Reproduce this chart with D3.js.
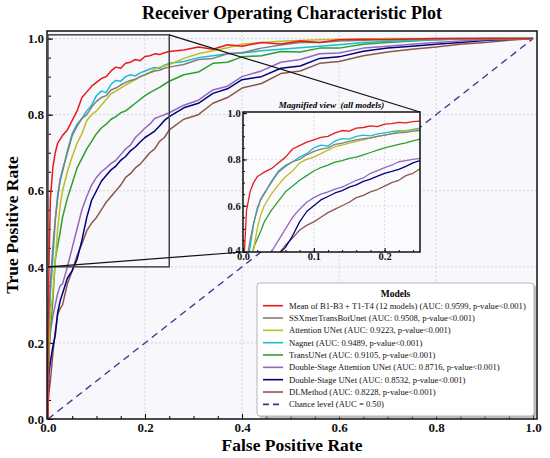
<!DOCTYPE html>
<html>
<head>
<meta charset="utf-8">
<script src="https://cdn.jsdelivr.net/npm/d3@7"></script>
<style>
  body { margin: 0; background: #fff; }
  svg { font-family: "Liberation Serif", "DejaVu Serif", serif; }
  .tick text { font-weight: bold; fill: #111; }
</style>
</head>
<body>
<svg width="550" height="458"></svg>
<script>
// shared false positive rate grid
const fprGrid = [0, 0.002, 0.005, 0.01, 0.015, 0.02, 0.025, 0.03,
  0.04, 0.05, 0.06, 0.07, 0.08, 0.09, 0.1, 0.11, 0.12, 0.13, 0.14, 0.15, 0.16, 0.17, 0.18, 0.19, 0.2, 0.21, 0.22, 0.23, 0.24, 0.25,
  0.28, 0.31, 0.34, 0.37, 0.4,
  0.44, 0.48, 0.52, 0.56, 0.6,
  0.65, 0.7, 0.75, 0.8, 0.85, 0.9, 0.95, 1.0];

// true positive rates per model
const tprMean = [0.22, 0.40, 0.58, 0.66, 0.70, 0.725, 0.735, 0.745,
  0.76, 0.785, 0.81, 0.845, 0.86, 0.875, 0.885, 0.895, 0.90, 0.915, 0.925, 0.922, 0.935, 0.938, 0.945, 0.942, 0.953, 0.955, 0.96, 0.958, 0.963, 0.966,
  0.97, 0.978, 0.972, 0.984, 0.98,
  0.99, 0.986, 0.994, 0.99, 0.997,
  0.998, 0.997, 0.999, 1, 1, 1, 1, 1];
const tprSSX = [0.18, 0.26, 0.36, 0.45, 0.525, 0.58, 0.63, 0.655,
  0.70, 0.745, 0.77, 0.79, 0.80, 0.82, 0.835, 0.845, 0.85, 0.865, 0.87, 0.878, 0.885, 0.89, 0.893, 0.90, 0.905, 0.91, 0.915, 0.917, 0.922, 0.925,
  0.932, 0.945, 0.948, 0.96, 0.963,
  0.975, 0.983, 0.99, 0.99, 0.994,
  0.996, 0.998, 0.998, 0.999, 1, 1, 1, 1];
const tprAttUNet = [0.12, 0.20, 0.27, 0.33, 0.41, 0.50, 0.56, 0.60,
  0.65, 0.69, 0.725, 0.75, 0.785, 0.80, 0.81, 0.825, 0.84, 0.855, 0.862, 0.87, 0.878, 0.885, 0.892, 0.90, 0.905, 0.912, 0.92, 0.925, 0.928, 0.932,
  0.948, 0.96, 0.968, 0.976, 0.985,
  0.99, 0.993, 0.995, 0.997, 0.998,
  0.999, 1, 1, 1, 1, 1, 1, 1];
const tprNagnet = [0.15, 0.25, 0.33, 0.42, 0.52, 0.59, 0.625, 0.65,
  0.705, 0.75, 0.775, 0.79, 0.81, 0.825, 0.85, 0.862, 0.858, 0.88, 0.89, 0.888, 0.90, 0.905, 0.902, 0.91, 0.915, 0.92, 0.924, 0.922, 0.93, 0.935,
  0.94, 0.95, 0.955, 0.96, 0.962,
  0.968, 0.972, 0.976, 0.98, 0.984,
  0.99, 0.993, 0.995, 0.997, 0.999, 1, 1, 1];
const tprTransUNet = [0.10, 0.17, 0.24, 0.31, 0.42, 0.455, 0.49, 0.53,
  0.58, 0.62, 0.66, 0.685, 0.71, 0.73, 0.75, 0.765, 0.775, 0.788, 0.795, 0.805, 0.81, 0.82, 0.83, 0.84, 0.85, 0.858, 0.865, 0.872, 0.88, 0.888,
  0.905, 0.912, 0.935, 0.938, 0.952,
  0.955, 0.966, 0.965, 0.975, 0.975,
  0.985, 0.99, 0.994, 0.997, 0.999, 1, 1, 1];
const tprDSAttUNet = [0.05, 0.18, 0.23, 0.27, 0.30, 0.33, 0.35, 0.355,
  0.40, 0.45, 0.50, 0.55, 0.585, 0.615, 0.635, 0.65, 0.66, 0.672, 0.68, 0.695, 0.71, 0.72, 0.74, 0.752, 0.765, 0.775, 0.79, 0.795, 0.80, 0.805,
  0.825, 0.838, 0.865, 0.875, 0.90,
  0.915, 0.938, 0.945, 0.96, 0.962,
  0.975, 0.98, 0.985, 0.99, 0.994, 0.997, 0.999, 1];
const tprDSUNet = [0.04, 0.12, 0.15, 0.19, 0.22, 0.28, 0.31, 0.33,
  0.37, 0.39, 0.42, 0.47, 0.53, 0.575, 0.60, 0.625, 0.64, 0.655, 0.665, 0.68, 0.69, 0.705, 0.715, 0.728, 0.74, 0.748, 0.757, 0.77, 0.785, 0.795,
  0.818, 0.83, 0.856, 0.868, 0.892,
  0.90, 0.922, 0.928, 0.948, 0.952,
  0.967, 0.975, 0.98, 0.985, 0.99, 0.995, 0.998, 1];
const tprDLMethod = [0.03, 0.07, 0.10, 0.17, 0.23, 0.275, 0.29, 0.30,
  0.355, 0.39, 0.43, 0.46, 0.495, 0.515, 0.53, 0.55, 0.57, 0.585, 0.60, 0.615, 0.635, 0.645, 0.66, 0.67, 0.685, 0.70, 0.71, 0.73, 0.74, 0.76,
  0.788, 0.80, 0.83, 0.845, 0.87,
  0.882, 0.908, 0.915, 0.935, 0.94,
  0.955, 0.965, 0.972, 0.978, 0.985, 0.99, 0.996, 1];

const modelNames = ["Mean of B1-B3 + T1-T4 (12 models)", "SSXmerTransBotUnet", "Attention UNet", "Nagnet",
  "TransUNet", "Double-Stage Attention UNet", "Double-Stage UNet", "DLMethod"];
const aucValues = [0.9599, 0.9508, 0.9223, 0.9489, 0.9105, 0.8716, 0.8532, 0.8228];
const tprSeries = [tprMean, tprSSX, tprAttUNet, tprNagnet, tprTransUNet, tprDSAttUNet, tprDSUNet, tprDLMethod];
const chanceLabel = "Chance level (AUC = 0.50)";

const xTicks = [0, 0.2, 0.4, 0.6, 0.8, 1.0];
const yTicks = [0, 0.2, 0.4, 0.6, 0.8, 1.0];
const insetXTicks = [0, 0.1, 0.2];
const insetYTicks = [0.4, 0.6, 0.8, 1.0];

// styles
const colors = ["#e8191c", "#7f7f7f", "#bcbd22", "#17becf", "#2ca02c", "#9467bd", "#00007f", "#8c564b"];
const chanceColor = "#35358a";

const svg = d3.select("svg");
const width = +svg.attr("width");
const height = +svg.attr("height");

// 主圖框
const frame = { left: 47, right: 537, top: 31, bottom: 419 };
const x = d3.scaleLinear().domain([-0.002, 1.008]).range([frame.left, frame.right]);
const y = d3.scaleLinear().domain([0, 1.02]).range([frame.bottom, frame.top]);

const series = tprSeries.map((tpr, i) => ({
  name: modelNames[i],
  auc: aucValues[i],
  color: colors[i],
  points: [[0, 0]].concat(fprGrid.map((f, j) => [f, tpr[j]]))
}));

const defs = svg.append("defs");
defs.append("clipPath").attr("id", "mainClip")
  .append("rect")
  .attr("x", frame.left).attr("y", frame.top)
  .attr("width", frame.right - frame.left).attr("height", frame.bottom - frame.top);

// background
svg.append("rect")
  .attr("x", frame.left).attr("y", frame.top)
  .attr("width", frame.right - frame.left).attr("height", frame.bottom - frame.top)
  .attr("fill", "#f7f7fc");

// grid
const grid = svg.append("g").attr("stroke", "#c9c9cf").attr("stroke-width", 0.8).attr("stroke-dasharray", "2,2");
grid.selectAll(".gx").data(xTicks.slice(1, -1)).enter().append("line")
  .attr("x1", d => x(d)).attr("x2", d => x(d)).attr("y1", frame.top).attr("y2", frame.bottom);
grid.selectAll(".gy").data(yTicks.slice(1)).enter().append("line")
  .attr("y1", d => y(d)).attr("y2", d => y(d)).attr("x1", frame.left).attr("x2", frame.right);

// axes
const minor = d3.range(0, 1.0001, 0.05);
const xAxisG = svg.append("g").attr("transform", `translate(0,${frame.bottom})`)
  .call(d3.axisBottom(x).tickValues(xTicks).tickFormat(d3.format(".1f")).tickSize(-5).tickPadding(3.5));
xAxisG.append("g").call(d3.axisBottom(x).tickValues(minor).tickFormat("").tickSize(-3));
xAxisG.selectAll(".domain").remove();
xAxisG.selectAll("text").attr("font-size", 13).attr("font-family", "Liberation Serif");

const yAxisG = svg.append("g").attr("transform", `translate(${frame.left + 1},0)`)
  .call(d3.axisLeft(y).tickValues(yTicks).tickFormat(d3.format(".1f")).tickSize(-5).tickPadding(4));
yAxisG.append("g").call(d3.axisLeft(y).tickValues(minor).tickFormat("").tickSize(-3));
yAxisG.selectAll(".domain").remove();
yAxisG.selectAll("text").attr("font-size", 13).attr("font-family", "Liberation Serif");

// curves
const line = d3.line().x(d => x(d[0])).y(d => y(d[1]));
const curves = svg.append("g").attr("clip-path", "url(#mainClip)");
curves.append("line")
  .attr("x1", x(0)).attr("y1", y(0)).attr("x2", x(1)).attr("y2", y(1))
  .attr("stroke", chanceColor).attr("stroke-width", 1.3).attr("stroke-dasharray", "7,5");
curves.selectAll("path.roc").data(series.slice().reverse()).enter().append("path")
  .attr("class", "roc")
  .attr("d", d => line(d.points))
  .attr("fill", "none")
  .attr("stroke", d => d.color)
  .attr("stroke-width", 1.5)
  .attr("stroke-linejoin", "round");

// frame
svg.append("rect")
  .attr("x", frame.left).attr("y", frame.top)
  .attr("width", frame.right - frame.left).attr("height", frame.bottom - frame.top)
  .attr("fill", "none").attr("stroke", "#111").attr("stroke-width", 1.5);

// zoom region
const zoomBox = { x0: 0, x1: 0.25, y0: 0.4, y1: 1.01 };
svg.append("rect")
  .attr("x", x(zoomBox.x0)).attr("y", y(zoomBox.y1))
  .attr("width", x(zoomBox.x1) - x(zoomBox.x0)).attr("height", y(zoomBox.y0) - y(zoomBox.y1))
  .attr("fill", "none").attr("stroke", "#444").attr("stroke-width", 1.5);

// inset
const inset = { left: 243, right: 420, top: 112, bottom: 252 };
const ix = d3.scaleLinear().domain([0, 0.25]).range([inset.left, inset.right]);
const iy = d3.scaleLinear().domain([0.4, 1.005]).range([inset.bottom, inset.top]);

// connector lines
svg.append("line")
  .attr("x1", x(zoomBox.x1)).attr("y1", y(zoomBox.y1)).attr("x2", inset.right).attr("y2", inset.top)
  .attr("stroke", "#111").attr("stroke-width", 1.2);
svg.append("line")
  .attr("x1", x(zoomBox.x0)).attr("y1", y(zoomBox.y0)).attr("x2", inset.left).attr("y2", inset.bottom)
  .attr("stroke", "#111").attr("stroke-width", 1.2);

defs.append("clipPath").attr("id", "insetClip")
  .append("rect")
  .attr("x", inset.left).attr("y", inset.top)
  .attr("width", inset.right - inset.left).attr("height", inset.bottom - inset.top);

svg.append("rect")
  .attr("x", inset.left).attr("y", inset.top)
  .attr("width", inset.right - inset.left).attr("height", inset.bottom - inset.top)
  .attr("fill", "#fbfbfe");

const igrid = svg.append("g").attr("stroke", "#d0d0d6").attr("stroke-width", 0.7).attr("stroke-dasharray", "2,2");
igrid.selectAll("line.gx").data(insetXTicks.slice(1)).enter().append("line")
  .attr("x1", d => ix(d)).attr("x2", d => ix(d)).attr("y1", inset.top).attr("y2", inset.bottom);
igrid.selectAll("line.gy").data(insetYTicks.slice(1, -1)).enter().append("line")
  .attr("y1", d => iy(d)).attr("y2", d => iy(d)).attr("x1", inset.left).attr("x2", inset.right);

const ixAxisG = svg.append("g").attr("transform", `translate(0,${inset.bottom})`)
  .call(d3.axisBottom(ix).tickValues(insetXTicks).tickFormat(d3.format(".1f")).tickSize(-4).tickPadding(1));
ixAxisG.append("g").call(d3.axisBottom(ix).tickValues(d3.range(0, 0.2501, 0.02)).tickFormat("").tickSize(-2));
ixAxisG.selectAll(".domain").remove();
ixAxisG.selectAll("text").attr("font-size", 10.5).attr("font-family", "Liberation Serif");

const iyAxisG = svg.append("g").attr("transform", `translate(${inset.left},0)`)
  .call(d3.axisLeft(iy).tickValues(insetYTicks).tickFormat(d3.format(".1f")).tickSize(-4).tickPadding(2.3));
iyAxisG.append("g").call(d3.axisLeft(iy).tickValues(d3.range(0.4, 1.0001, 0.05)).tickFormat("").tickSize(-2));
iyAxisG.selectAll(".domain").remove();
iyAxisG.selectAll("text").attr("font-size", 10.5).attr("font-family", "Liberation Serif");
// 0.4 sits just above the 0.0 of the x axis, as in the original
iyAxisG.selectAll(".tick text").filter(d => d === 0.4).attr("dy", "0.1em");

const iline = d3.line().x(d => ix(d[0])).y(d => iy(d[1]));
const icurves = svg.append("g").attr("clip-path", "url(#insetClip)");
icurves.append("line")
  .attr("x1", ix(0)).attr("y1", iy(0)).attr("x2", ix(1)).attr("y2", iy(1))
  .attr("stroke", chanceColor).attr("stroke-width", 1.3).attr("stroke-dasharray", "7,5");
icurves.selectAll("path.roc").data(series.slice().reverse()).enter().append("path")
  .attr("class", "roc")
  .attr("d", d => iline(d.points))
  .attr("fill", "none")
  .attr("stroke", d => d.color)
  .attr("stroke-width", 1.3)
  .attr("stroke-linejoin", "round");

svg.append("rect")
  .attr("x", inset.left).attr("y", inset.top)
  .attr("width", inset.right - inset.left).attr("height", inset.bottom - inset.top)
  .attr("fill", "none").attr("stroke", "#111").attr("stroke-width", 1.5);

svg.append("text")
  .attr("x", (inset.left + inset.right) / 2).attr("y", 108)
  .attr("text-anchor", "middle")
  .attr("font-size", 9).attr("font-weight", "bold").attr("font-style", "italic")
  .style("white-space", "pre")
  .text("Magnified view  (all models)");

// legend
const lg = svg.append("g").attr("transform", "translate(257,283)");
const lgW = 277, lgH = 133;
lg.append("rect").attr("x", 2).attr("y", 2).attr("width", lgW).attr("height", lgH).attr("rx", 3)
  .attr("fill", "#999").attr("opacity", 0.6);
lg.append("rect").attr("width", lgW).attr("height", lgH).attr("rx", 3)
  .attr("fill", "#fff").attr("stroke", "#b5b5b5").attr("stroke-width", 1);
lg.append("text").attr("x", lgW / 2).attr("y", 13.7).attr("text-anchor", "middle")
  .attr("font-size", 9.5).attr("font-weight", "bold").text("Models");

const legendItems = series.map(d => ({
  label: `${d.name} (AUC: ${d.auc.toFixed(4)}, p-value<0.001)`,
  color: d.color, dash: null
})).concat([{ label: chanceLabel, color: chanceColor, dash: "6,4" }]);

const item = lg.selectAll("g.item").data(legendItems).enter().append("g")
  .attr("class", "item")
  .attr("transform", (d, i) => `translate(0,${22.7 + i * 12.33})`);
item.append("line").attr("x1", 6).attr("x2", 26)
  .attr("stroke", d => d.color).attr("stroke-width", 1.6)
  .attr("stroke-dasharray", d => d.dash);
item.append("text").attr("x", 32).attr("dy", "0.33em")
  .attr("font-size", 8.6).attr("fill", "#111").text(d => d.label);

// titles
svg.append("text")
  .attr("x", 292).attr("y", 19)
  .attr("text-anchor", "middle")
  .attr("font-size", 18).attr("font-weight", "bold")
  .text("Receiver Operating Characteristic Plot");

svg.append("text")
  .attr("x", 292).attr("y", 451)
  .attr("text-anchor", "middle")
  .attr("font-size", 17.5).attr("font-weight", "bold")
  .text("False Positive Rate");

svg.append("text")
  .attr("transform", `translate(18,${(frame.top + frame.bottom) / 2}) rotate(-90)`)
  .attr("text-anchor", "middle")
  .attr("font-size", 17.5).attr("font-weight", "bold")
  .text("True Positive Rate");
</script>
</body>
</html>
